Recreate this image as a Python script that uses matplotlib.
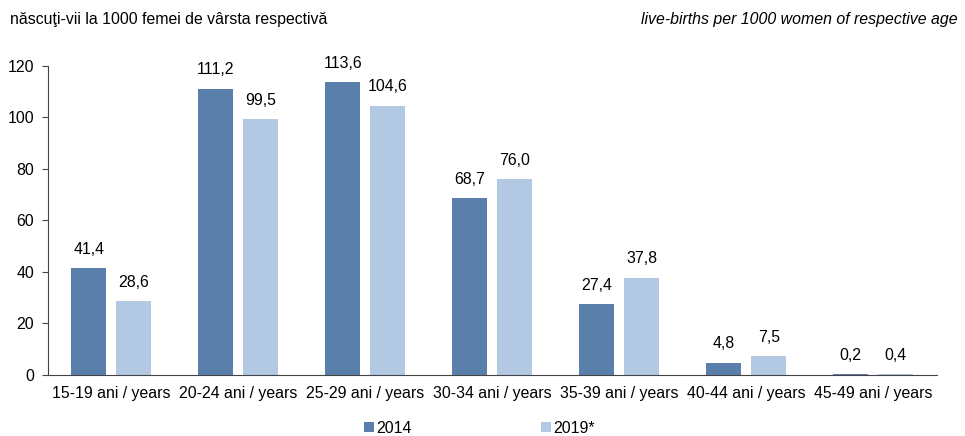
import matplotlib.pyplot as plt
import numpy as np

plt.rcParams['font.family'] = ['Liberation Sans', 'DejaVu Sans']

groups = ['15-19 ani / years', '20-24 ani / years', '25-29 ani / years', '30-34 ani / years',
          '35-39 ani / years', '40-44 ani / years', '45-49 ani / years']
rate_2014 = [41.4, 111.2, 113.6, 68.7, 27.4, 4.8, 0.2]
rate_2019 = [28.6, 99.5, 104.6, 76.0, 37.8, 7.5, 0.4]
yticks = [0, 20, 40, 60, 80, 100, 120]

c14 = '#5a7fab'
c19 = '#b2c8e3'
fs = 11.4

fig = plt.figure(figsize=(9.65, 4.36), dpi=100)
ax = fig.add_axes([0.0497, 0.140, 0.921, 0.709])

x = np.arange(len(groups))
w = 0.276
off = 0.177
b1 = ax.bar(x - off, rate_2014, w, color=c14, label='2014')
b2 = ax.bar(x + off, rate_2019, w, color=c19, label='2019*')

for bars, vals in ((b1, rate_2014), (b2, rate_2019)):
    for b, v in zip(bars, vals):
        ax.annotate(f'{v:.1f}'.replace('.', ','), (b.get_x() + b.get_width() / 2, v),
                    xytext=(0, 8), textcoords='offset points', ha='center', va='bottom',
                    fontsize=fs)

ax.set_xlim(-0.5, len(groups) - 0.5)
ax.set_ylim(0, 120)
ax.set_yticks(yticks)
ax.set_xticks(x)
ax.set_xticklabels(groups)
ax.tick_params(axis='x', length=0, labelsize=fs, pad=8)
ax.tick_params(axis='y', length=4, labelsize=fs, pad=6, color='#444444')
for s in ('top', 'right'):
    ax.spines[s].set_visible(False)
ax.spines['left'].set_color('#444444')
ax.spines['bottom'].set_color('#444444')

fig.text(0.010, 0.955, 'născuţi-vii la 1000 femei de vârsta respectivă', fontsize=fs,
         ha='left', va='center')
fig.text(0.992, 0.955, 'live-births per 1000 women of respective age', fontsize=fs,
         ha='right', va='center', style='italic')

fig.legend(loc='center', bbox_to_anchor=(0.497, 0.018), ncol=2, frameon=False,
           fontsize=fs, handlelength=0.6, handleheight=0.6, handletextpad=0.15,
           columnspacing=8.2)

fig.savefig('out.png', dpi=100)
